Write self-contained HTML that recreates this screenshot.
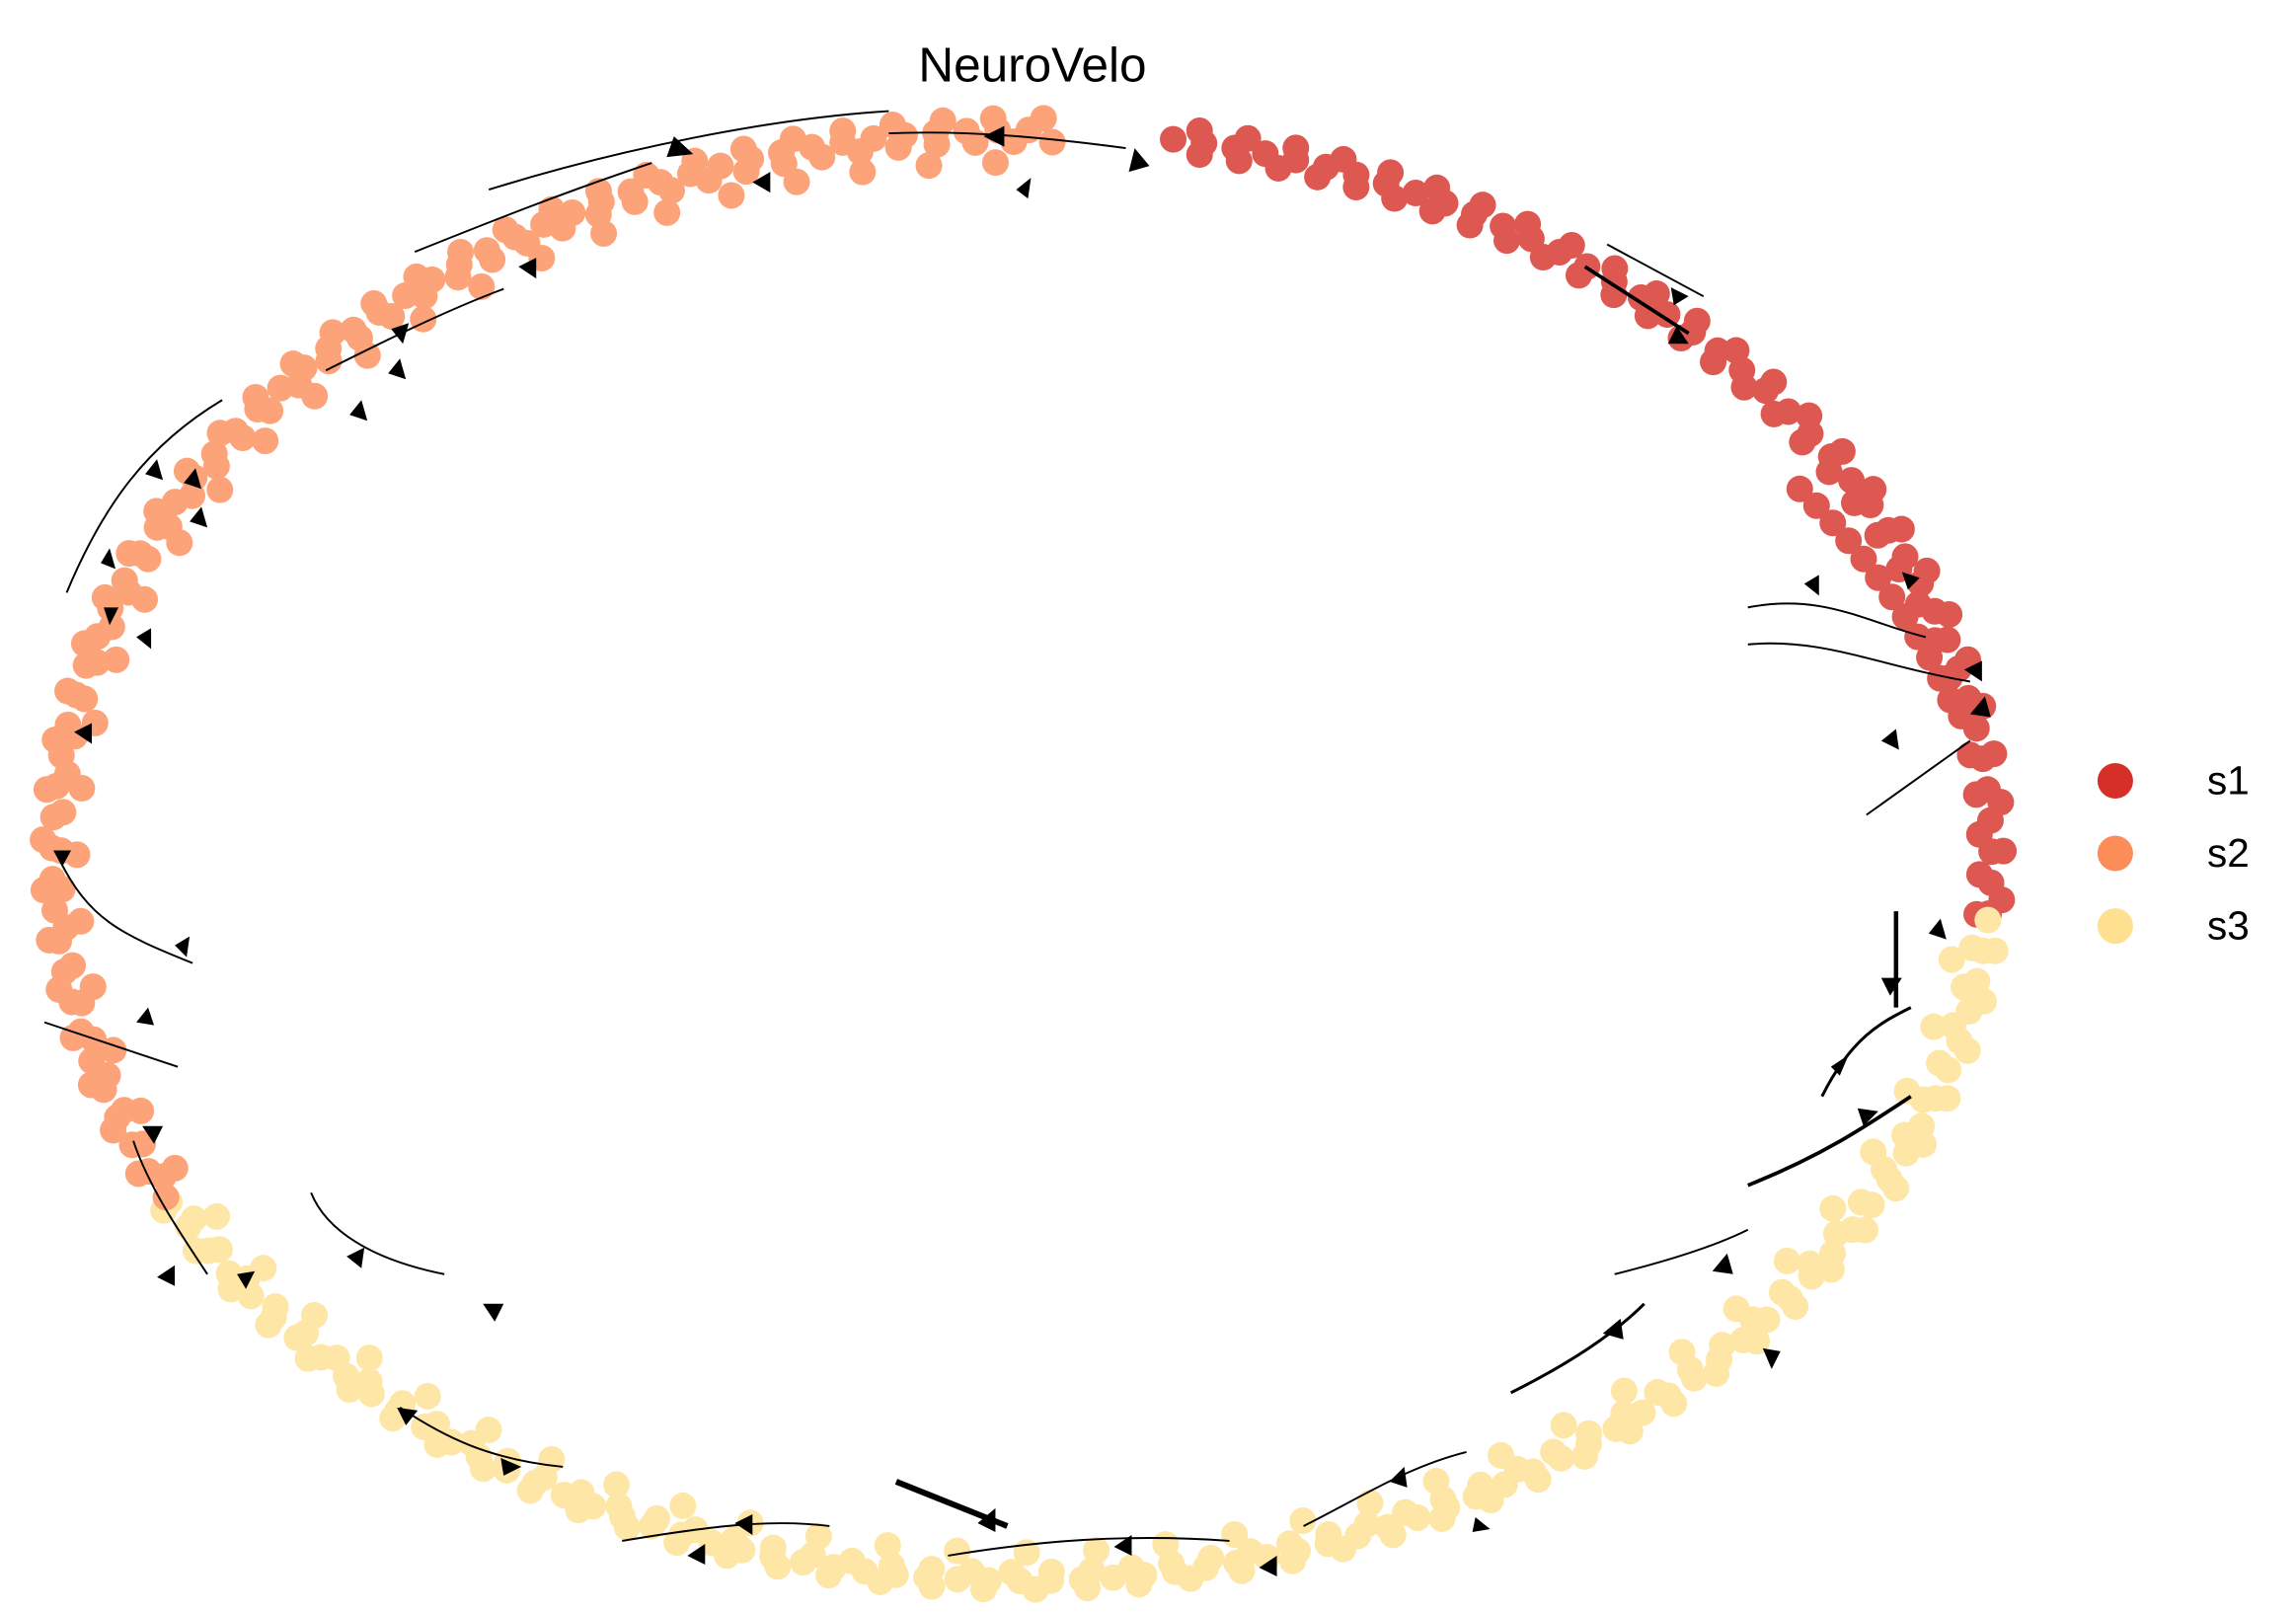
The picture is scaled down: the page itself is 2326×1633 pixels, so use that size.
<!DOCTYPE html>
<html><head><meta charset="utf-8"><style>
html,body{margin:0;padding:0;background:#fff;}
svg{display:block;}
</style></head><body>
<svg width="2326" height="1633" viewBox="0 0 1550 1088" preserveAspectRatio="none" xmlns="http://www.w3.org/2000/svg">
<rect width="1550" height="1088" fill="#fff"/>
<text x="697" y="55" font-family="Liberation Sans, DejaVu Sans, sans-serif" font-size="33" text-anchor="middle" fill="#000">NeuroVelo</text>
<g fill="none" stroke-linecap="round" opacity="0.8">
 <g stroke="#d62f27" stroke-width="18">
  <path d="M792 94 A655 490 0 0 1 1342 621" stroke-dasharray="0 21"/>
  <path d="M792 102 A647 482 0 0 1 1334 621" stroke-dasharray="0 27" stroke-dashoffset="9"/>
  <path d="M792 86 A663 498 0 0 1 1350 621" stroke-dasharray="0 33" stroke-dashoffset="15"/>
  <path d="M1215 330 A650 485 0 0 1 1320 480" stroke-dasharray="0 16"/>
 </g>
 <g stroke="#fee090" stroke-width="18">
  <path d="M1342 621 A655 490 0 0 1 112 808" stroke-dasharray="0 21"/>
  <path d="M1334 621 A647 482 0 0 1 120 808" stroke-dasharray="0 27" stroke-dashoffset="8"/>
  <path d="M1350 621 A663 498 0 0 1 104 808" stroke-dasharray="0 35" stroke-dashoffset="14"/>
  <path d="M1322 621 A635 470 0 0 1 136 808" stroke-dasharray="0 47" stroke-dashoffset="20"/>
 </g>
 <g stroke="#fc8d59" stroke-width="18">
  <path d="M112 808 A655 490 0 0 1 713 88" stroke-dasharray="0 21"/>
  <path d="M120 808 A647 482 0 0 1 713 96" stroke-dasharray="0 26" stroke-dashoffset="9"/>
  <path d="M104 808 A663 498 0 0 1 713 80" stroke-dasharray="0 34" stroke-dashoffset="15"/>
  <path d="M132 808 A635 470 0 0 1 713 110" stroke-dasharray="0 45" stroke-dashoffset="21"/>
 </g>
</g>
<g fill="none" stroke="#000" stroke-width="1.3">
 <path d="M330 128 C420 100 520 80 600 75"/>
 <path d="M600 90 C650 88 700 92 760 100"/>
 <path d="M1085 165 L1150 200"/>
 <path d="M1070 180 L1140 225" stroke-width="2.5"/>
 <path d="M1180 410 C1230 400 1260 420 1300 430"/>
 <path d="M1180 435 C1230 430 1270 450 1330 460"/>
 <path d="M1260 550 L1330 500"/>
 <path d="M1280 615 L1280 680" stroke-width="3"/>
 <path d="M1230 740 C1250 700 1270 690 1290 680" stroke-width="2"/>
 <path d="M1180 800 C1230 780 1260 760 1290 740" stroke-width="2.5"/>
 <path d="M1090 860 C1130 850 1160 840 1180 830"/>
 <path d="M1020 940 C1060 920 1090 900 1110 880" stroke-width="2"/>
 <path d="M880 1030 C920 1010 950 990 990 980"/>
 <path d="M640 1050 C700 1040 760 1035 830 1040"/>
 <path d="M420 1040 C480 1030 520 1025 560 1030"/>
 <path d="M605 1000 L680 1030" stroke-width="4"/>
 <path d="M270 950 C300 970 330 985 380 990"/>
 <path d="M210 805 C220 830 250 850 300 860"/>
 <path d="M90 770 C100 800 120 830 140 860"/>
 <path d="M30 690 C60 700 90 710 120 720"/>
 <path d="M40 580 C60 620 80 630 130 650"/>
 <path d="M45 400 C70 340 100 300 150 270"/>
 <path d="M220 250 C260 230 300 210 340 195"/>
 <path d="M280 170 C330 150 380 130 440 110"/>
</g>
<g fill="#000">
 <polygon points="455,92 468,104 450,106"/>
 <polygon points="664,92 678,85 678,99"/>
 <polygon points="766,100 776,112 762,116"/>
 <polygon points="508,123 520,116 520,130"/>
 <polygon points="686,128 696,120 694,134"/>
 <polygon points="1140,200 1128,194 1130,206"/>
 <polygon points="1132,220 1140,232 1126,232"/>
 <polygon points="1218,394 1228,388 1228,402"/>
 <polygon points="1296,390 1284,386 1288,398"/>
 <polygon points="1326,452 1338,446 1338,460"/>
 <polygon points="1270,500 1280,492 1282,506"/>
 <polygon points="1330,482 1340,470 1344,484"/>
 <polygon points="1302,630 1310,620 1314,634"/>
 <polygon points="1276,672 1284,660 1270,660"/>
 <polygon points="1236,720 1248,712 1242,726"/>
 <polygon points="1254,748 1268,750 1258,760"/>
 <polygon points="1156,858 1166,846 1170,860"/>
 <polygon points="1190,910 1202,912 1196,924"/>
 <polygon points="1082,900 1094,890 1096,904"/>
 <polygon points="938,1000 948,990 950,1004"/>
 <polygon points="996,1024 1006,1032 994,1034"/>
 <polygon points="752,1044 764,1036 764,1050"/>
 <polygon points="850,1058 862,1050 862,1064"/>
 <polygon points="464,1050 476,1042 476,1056"/>
 <polygon points="496,1028 508,1022 508,1036"/>
 <polygon points="660,1028 672,1018 672,1034"/>
 <polygon points="352,990 338,984 340,996"/>
 <polygon points="274,962 268,950 282,952"/>
 <polygon points="234,848 246,842 244,856"/>
 <polygon points="326,880 334,892 340,880"/>
 <polygon points="160,860 166,870 172,858"/>
 <polygon points="106,862 118,854 118,868"/>
 <polygon points="96,760 104,772 110,760"/>
 <polygon points="92,690 100,680 104,692"/>
 <polygon points="118,638 128,632 126,646"/>
 <polygon points="42,585 36,574 48,574"/>
 <polygon points="50,494 62,488 62,502"/>
 <polygon points="68,380 74,370 78,384"/>
 <polygon points="70,410 74,422 80,410"/>
 <polygon points="92,430 102,424 102,438"/>
 <polygon points="98,320 106,310 110,324"/>
 <polygon points="124,326 132,316 136,330"/>
 <polygon points="128,352 136,342 140,356"/>
 <polygon points="236,280 244,270 248,284"/>
 <polygon points="262,252 270,242 274,256"/>
 <polygon points="264,222 276,218 272,232"/>
 <polygon points="350,180 362,174 362,188"/>
</g>
<circle cx="1428" cy="527" r="12" fill="#d62f27"/>
<circle cx="1428" cy="576" r="12" fill="#fc8d59"/>
<circle cx="1428" cy="625" r="12" fill="#fee090"/>
<g font-family="Liberation Sans, DejaVu Sans, sans-serif" font-size="27" fill="#000">
 <text x="1490" y="536">s1</text>
 <text x="1490" y="585">s2</text>
 <text x="1490" y="634">s3</text>
</g>
</svg>
</body></html>
